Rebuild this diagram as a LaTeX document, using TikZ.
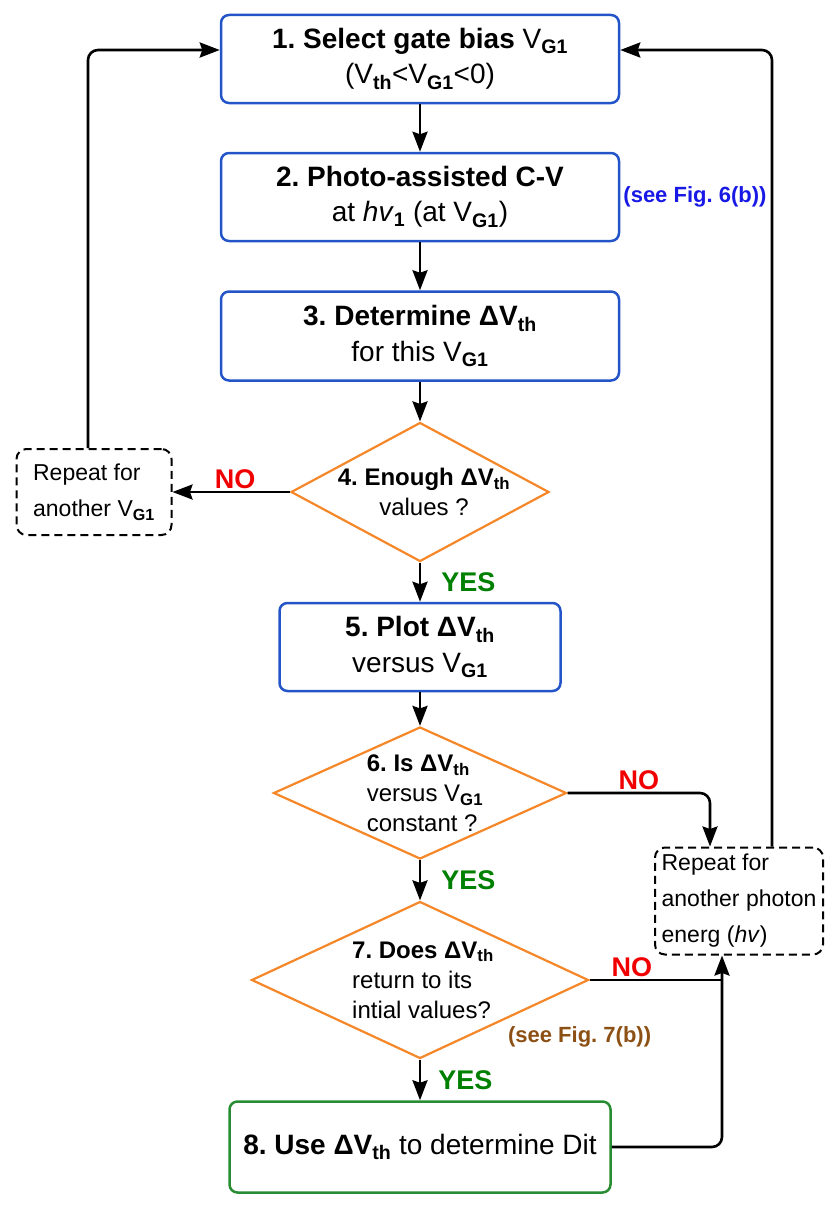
\documentclass[tikz,border=0pt]{standalone}
\usepackage{fontspec}
\setmainfont{Liberation Sans}
\frenchspacing
\usetikzlibrary{shapes.geometric,arrows.meta,positioning}
\definecolor{boxblue}{RGB}{35,85,200}
\definecolor{dorange}{RGB}{245,135,40}
\definecolor{boxgreen}{RGB}{40,140,50}
\definecolor{nored}{RGB}{240,0,0}
\definecolor{yesgreen}{RGB}{0,128,0}
\definecolor{figblue}{RGB}{25,25,230}
\definecolor{figbrown}{RGB}{140,80,20}
\newcommand{\VGone}{V\textsubscript{\textbf{G1}}}
\newcommand{\Vth}{V\textsubscript{\textbf{th}}}
\newcommand{\dVth}{\textbf{ΔV\textsubscript{th}}}
\newcommand{\bigtxt}{\fontsize{28}{35.5}\selectfont}
\newcommand{\dtxt}{\fontsize{24}{30}\selectfont}
\newcommand{\rtxt}{\fontsize{23}{36}\selectfont}
\tikzset{stepbox/.style={draw=boxblue, line width=2.5pt, rounded corners=8pt, minimum width=398pt, minimum height=88pt, align=center, font=\bigtxt},
         endbox/.style={stepbox, draw=boxgreen, minimum width=381pt, minimum height=91pt},
         test/.style={draw=dorange, line width=2.2pt, shape=diamond, inner sep=0pt},
         dtext/.style={font=\dtxt, inner sep=0pt},
         repbox/.style={draw=black, line width=2pt, dashed, dash pattern=on 8pt off 5pt, rounded corners=10pt, align=left, font=\rtxt, inner sep=3pt},
         arr/.style={line width=2.6pt, -{Stealth[length=20pt,width=15pt,inset=2.5pt]}},
         plain/.style={line width=2.6pt},
         nolabel/.style={text=nored, font=\fontsize{27}{30}\selectfont\bfseries, inner sep=2pt},
         yeslabel/.style={text=yesgreen, font=\fontsize{27}{30}\selectfont\bfseries, inner sep=2pt},
         figlbl/.style={font=\fontsize{22}{26}\selectfont\bfseries, inner sep=1pt}}
\begin{document}
\begin{tikzpicture}[x=1pt,y=-1pt]
  \useasboundingbox (0,0) rectangle (836,1207);
  \node[stepbox] (s1) at (420,59) {\textbf{1. Select gate bias} \VGone\\(\Vth<\VGone<0)};
  \node[stepbox] (s2) at (420,197) {\textbf{2. Photo-assisted C-V}\\at \textit{hv}\textsubscript{\textbf{1}} (at \VGone)};
  \node[stepbox, minimum height=89pt] (s3) at (420,336) {\textbf{3. Determine} \dVth\\for this \VGone};
  \node[test, minimum width=258pt, minimum height=139pt] (d4) at (420,492) {};
  \node[dtext, align=center] (d4t) at ([xshift=4pt]d4) {\textbf{4. Enough} \dVth\\values ?};
  \node[repbox, minimum width=155pt, minimum height=86pt] (r1) at (94,492) {Repeat for\\another \VGone};
  \node[stepbox, minimum width=281pt] (s5) at (420,647) {\textbf{5. Plot} \dVth\\versus \VGone};
  \node[test, minimum width=293pt, minimum height=132pt] (d6) at (420,793) {};
  \node[dtext, align=left] (d6t) at ([xshift=5pt]d6) {\textbf{6. Is} \dVth\\versus \VGone\\constant ?};
  \node[repbox, minimum width=168pt, minimum height=107pt] (r2) at (739,901) {Repeat for\\another photon\\energ (\textit{hv})};
  \node[test, minimum width=337pt, minimum height=157pt] (d7) at (420,980) {};
  \node[dtext, align=left] (d7t) at ([xshift=3pt]d7) {\textbf{7. Does} \dVth\\return to its\\intial values?};
  \node[endbox] (s8) at (420,1147) {\textbf{8. Use} \dVth{} to determine Dit};
  \node[figlbl, text=figblue, right=2pt of s2] (f6) {(see Fig. 6(b))};
  \node[figlbl, text=figbrown] (f7) at ([xshift=-10pt,yshift=-57pt]d7.east) {(see Fig. 7(b))};
  \coordinate (j) at ([xshift=-17pt]r2.south);
  \draw[arr] (s1) -- (s2);
  \draw[arr] (s2) -- (s3);
  \draw[arr] (s3) -- (d4);
  \draw[arr] (d4) -- node[nolabel, above, xshift=4pt] {NO} (r1);
  \draw[arr, rounded corners=10pt] ([xshift=-6pt]r1.north) |- ([yshift=9pt]s1.west);
  \draw[arr] (d4) -- node[yeslabel, right, xshift=18pt] {YES} (s5);
  \draw[arr] (s5) -- (d6);
  \draw[arr, rounded corners=10pt] (d6.east) -| node[nolabel, above, pos=0.25] {NO} ([xshift=-29pt]r2.north);
  \draw[arr, rounded corners=10pt] ([xshift=33pt]r2.north) |- ([yshift=9pt]s1.east);
  \draw[arr] (d6) -- node[yeslabel, right, xshift=18pt] {YES} (d7);
  \draw[plain] (d7.east) -- node[nolabel, above, pos=0.32] {NO} (d7.east -| j);
  \draw[arr] (d7) -- node[yeslabel, right, xshift=15pt] {YES} (s8);
  \draw[arr, rounded corners=10pt] (s8.east) -| (j);
\end{tikzpicture}
\end{document}
